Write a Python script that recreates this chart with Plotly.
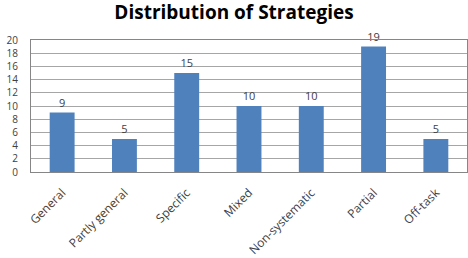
import plotly.graph_objects as go

categories = ["General", "Partly general", "Specific", "Mixed", "Non-systematic", "Partial", "Off-task"]
values = [9, 5, 15, 10, 10, 19, 5]

fig = go.Figure(go.Bar(
    x=categories, y=values,
    marker=dict(color="#4F81BD", line=dict(width=0)),
    text=[str(v) for v in values], textposition="outside",
    textfont=dict(family="Open Sans", size=11, color="#404040"),
    cliponaxis=False,
))
fig.update_layout(
    width=468, height=258,
    margin=dict(l=31, r=0, t=40, b=84),
    paper_bgcolor="white", plot_bgcolor="white",
    bargap=0.6,
    showlegend=False,
    title=dict(text="<b>Distribution of Strategies</b>", x=0.5, xanchor="center",
               y=0.952, yanchor="middle",
               font=dict(family="Open Sans", size=19, color="#000000")),
    font=dict(family="Open Sans", size=11, color="#404040"),
)
fig.update_xaxes(tickangle=-45, showline=True, linecolor="#868686", mirror=True,
                 ticklabelstandoff=8,
                 tickfont=dict(size=12, color="#404040"))
fig.update_yaxes(range=[0, 20], dtick=2, showgrid=True, gridcolor="#A6A6A6",
                 showline=True, linecolor="#868686", mirror=True, zeroline=False,
                 ticklabelstandoff=10, tickfont=dict(size=10, color="#404040"))
fig.write_html("out.html")
